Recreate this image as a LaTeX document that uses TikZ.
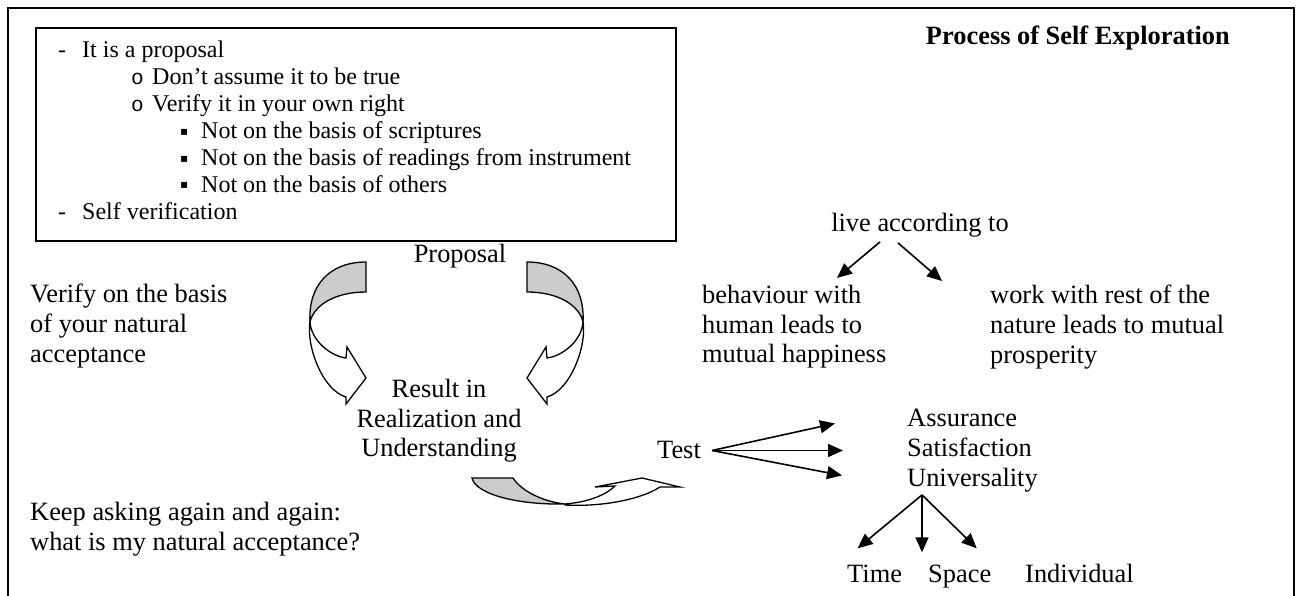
\documentclass[tikz,border=0pt]{standalone}
\usepackage{fontspec}
\setmainfont{Liberation Serif}
\newfontfamily\monofont{Liberation Mono}
\newfontfamily\symfont{DejaVu Sans}
\usepackage{tikz}
\usetikzlibrary{arrows.meta, positioning}
\colorlet{bandgray}{black!20}
\newcommand{\circmark}{{\monofont\fontsize{21}{21}\selectfont o}}
\newcommand{\sqmark}{{\symfont\fontsize{12}{12}\selectfont\raisebox{3.5pt}{▪}}}

\tikzset{
  twistarrow/.pic={
    \draw[band, fill=bandgray] (0,-116) .. controls (-36,-116) and (-58,-93) .. (-56,-56)
        .. controls (-52,-73) and (-31,-86) .. (0,-86) -- cycle;
    \draw[band, fill=white] (-56,-56) .. controls (-60,-33) and (-44,12) .. (-20,19)
        -- (-20,26) -- (0,0) -- (-19,-31) -- (-20,-20)
        .. controls (-36,-22) and (-55,-38) .. (-56,-56) -- cycle;
  }
}

\begin{document}
\begin{tikzpicture}[x=1pt, y=-1pt, >={Triangle[length=15pt,width=13pt]}, line join=miter,
    txt/.style={inner sep=0pt, font=\fontsize{26.4}{29.7}\selectfont, align=left},
    boxtxt/.style={inner sep=0pt, anchor=base west, font=\fontsize{24}{26.9}\selectfont},
    link/.style={->, line width=1.6pt},
    band/.style={draw, line width=1.3pt}]
  \useasboundingbox (0,0) rectangle (1298,596);
  % frame, open at the bottom
  \draw[line width=1.5pt] (8,600) -- (8,8) -- (1294,8) -- (1294,600);

  \node (listbox) [draw, line width=2pt, inner sep=0pt, minimum width=640pt, minimum height=213pt,
      anchor=north west] at (35,27) {};
  \foreach \mx/\tx/\mk/\txt [count=\i] in {
      58/82/{-}/{It is a proposal},
      131/152/{\circmark}/{Don’t assume it to be true},
      131/152/{\circmark}/{Verify it in your own right},
      180/201/{\sqmark}/{Not on the basis of scriptures},
      180/201/{\sqmark}/{Not on the basis of readings from instrument},
      180/201/{\sqmark}/{Not on the basis of others},
      58/82/{-}/{Self verification}}{
    \node (mark\i) [boxtxt] at (\mx,{58+26.9*(\i-1)}) {\mk};
    \node (line\i) [boxtxt] at (\tx,{58+26.9*(\i-1)}) {\txt};
  }

  \node (title) [txt, font=\bfseries\fontsize{26.4}{29.7}\selectfont, anchor=base east]
      at (1230,45) {Process of Self Exploration};

  \node (proposal) [txt, anchor=base] at (460,262) {Proposal};
  \node (verify) [txt, anchor=north west] at (30,284) {Verify on the basis\\of your natural\\acceptance};
  \node (result) [txt, align=center, anchor=north] at (439,379) {Result in\\Realization and\\Understanding};
  \node (keep) [txt, anchor=north west] at (30,502) {Keep asking again and again:\\what is my natural acceptance?};
  \node (test) [txt, anchor=base west] at (657,458) {Test};

  \node (live) [txt, anchor=base] at (920,232) {live according to};
  \node (behav) [txt, anchor=north west] at (702,285) {behaviour with\\human leads to\\mutual happiness};
  \node (work) [txt, anchor=north west] at (990,285) {work with rest of the\\nature leads to mutual\\prosperity};

  \node (assure) [txt, anchor=north west] at (907,409) {Assurance\\Satisfaction\\Universality};
  \node (time) [txt, anchor=base west] at (847,582) {Time};
  \node (space) [txt, anchor=base west] at (928,582) {Space};
  \node (indiv) [txt, anchor=base west] at (1025,582) {Individual};

  \pic (leftloop) at (366,378) {twistarrow};
  \pic (rightloop) [xscale=-1] at (527,378) {twistarrow};

  \draw[band, fill=bandgray] (472,478) -- (513,478) .. controls (522,492) and (545,502) .. (565,504)
      .. controls (520,505) and (476,495) .. (472,478) -- cycle;
  \draw[band, fill=white] (565,504) .. controls (590,502) and (607,494) .. (615,486)
      -- (595,487) -- (642,478) -- (680,487) -- (660,487)
      .. controls (640,500) and (600,507) .. (565,505) -- cycle;

  \draw[link] ([shift={(-40,4)}]live.south) -- ([shift={(135,-7)}]behav.north west);
  \draw[link] ([shift={(-22,5)}]live.south) -- ([shift={(-48,-4)}]work.north west);

  \coordinate (testfork) at ([shift={(11,1)}]test.east);
  \draw[link] (testfork) -- ([shift={(-72,-27)}]assure.west);
  \draw[link] (testfork) -- ([xshift=-64pt]testfork -| assure.west);
  \draw[link] (testfork) -- ([shift={(-65,25)}]assure.west);

  \coordinate (unifork) at ([shift={(15,3)}]assure.south west);
  \draw[link] (unifork) -- ([shift={(-17,-16)}]time.north);
  \draw[link] (unifork) -- ([yshift=12pt]unifork |- space.north);
  \draw[link] (unifork) -- ([shift={(17,-16)}]space.north);
\end{tikzpicture}
\end{document}
